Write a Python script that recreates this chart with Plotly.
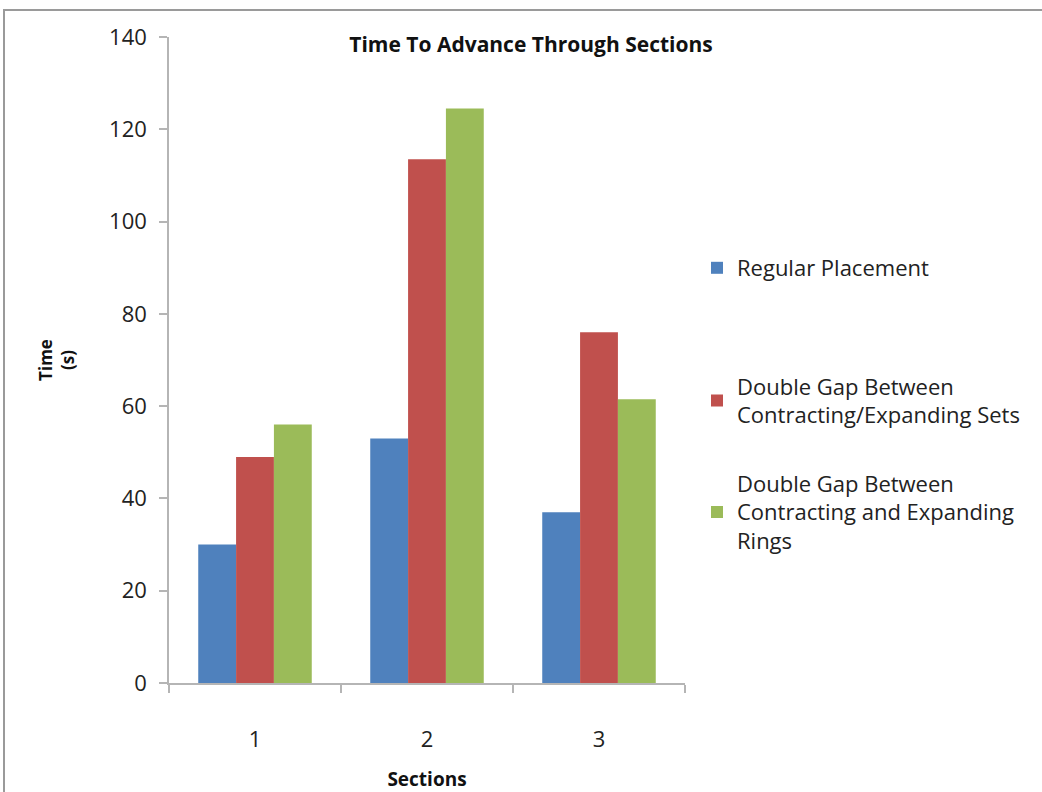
import plotly.graph_objects as go

sections = ["1", "2", "3"]
regular = [30, 53, 37]
double_sets = [49, 113.5, 76]
double_rings = [56, 124.5, 61.5]

series_names = [
    "Regular Placement",
    "Double Gap Between<br>Contracting/Expanding Sets",
    "Double Gap Between<br>Contracting and Expanding<br>Rings",
]
colors = ["#4F81BD", "#C0504D", "#9BBB59"]
y_ticks = [0, 20, 40, 60, 80, 100, 120, 140]

FONT = "Open Sans"
W, H = 1042, 792
L, R, T, B = 169, 1042 - 685, 37, 792 - 683
pw, ph = W - L - R, H - T - B

def px_x(p):
    return (p - L) / pw

def px_y(p):
    return (H - B - p) / ph

fig = go.Figure()
legends = ["legend", "legend2", "legend3"]
for vals, name, col, lg in zip([regular, double_sets, double_rings], series_names, colors, legends):
    fig.add_trace(go.Bar(x=sections, y=vals, name=name, marker=dict(color=col, line=dict(width=0)),
                         legend=lg))

leg_y = [268, 401, 512]
common_leg = dict(x=px_x(697), xanchor="left", yanchor="middle",
                  font=dict(family=FONT, size=22, color="#222"), bgcolor="rgba(0,0,0,0)")
fig.update_layout(
    legend=dict(y=px_y(leg_y[0]), **common_leg),
    legend2=dict(y=px_y(leg_y[1]), **common_leg),
    legend3=dict(y=px_y(leg_y[2]), **common_leg),
)

fig.update_layout(
    width=W, height=H,
    margin=dict(l=L, r=R, t=T, b=B, pad=0, autoexpand=False),
    paper_bgcolor="white", plot_bgcolor="white",
    barmode="group", bargap=0.34, bargroupgap=0,
    title=dict(text="<b>Time To Advance Through Sections</b>", xref="container", x=531 / W, xanchor="center",
               yref="container", y=1 - 45 / H, yanchor="middle", font=dict(family=FONT, size=21, color="#111")),
    font=dict(family=FONT, color="#222"),
    showlegend=True,
)

fig.update_xaxes(
    type="category", automargin=False, showgrid=False, showline=True, linecolor="#b5b5b5", linewidth=1.5,
    ticks="outside", tickson="boundaries", ticklen=8, tickcolor="#b5b5b5", tickwidth=1.5,
    tickfont=dict(family=FONT, size=22, color="#222"), ticklabelstandoff=36,
    title=dict(text="<b>Sections</b>", font=dict(family=FONT, size=19, color="#111"), standoff=25),
)
fig.update_yaxes(
    range=[0, 140], tickvals=y_ticks, automargin=False, showgrid=False, zeroline=False, showline=True,
    linecolor="#b5b5b5", linewidth=1.5, ticks="outside", ticklen=8, tickcolor="#b5b5b5", tickwidth=1.5,
    tickfont=dict(family=FONT, size=22, color="#222"), ticklabelstandoff=8,
    title=dict(text="<b>Time<br>(s)</b>", font=dict(family=FONT, size=17, color="#111"), standoff=30),
)

fig.add_shape(type="rect", xref="paper", yref="paper",
              x0=px_x(4), x1=px_x(1060), y0=px_y(820), y1=px_y(10),
              line=dict(color="#9a9a9a", width=2), fillcolor="rgba(0,0,0,0)", layer="above")

fig.write_html("out.html")
